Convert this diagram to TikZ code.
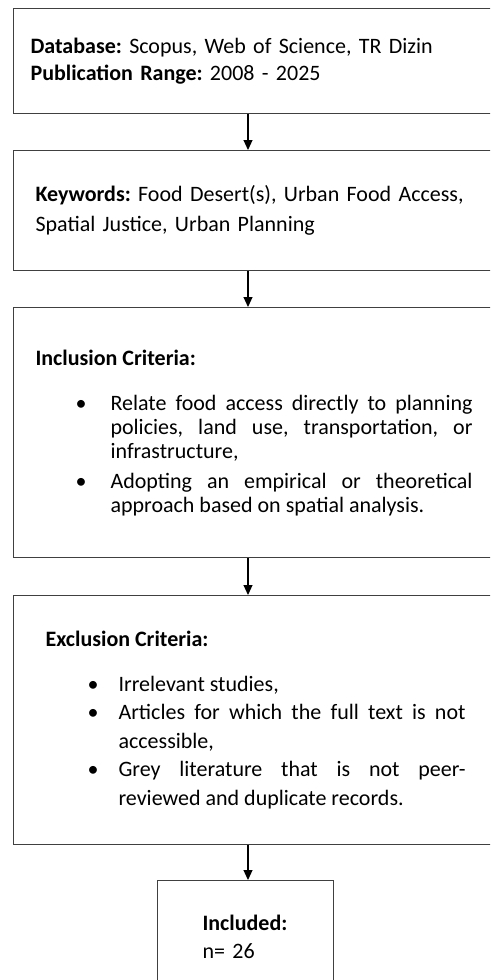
\documentclass[tikz,border=0pt]{standalone}
\usepackage{fontspec}
\setmainfont{Carlito}
\usetikzlibrary{positioning}
\usetikzlibrary{arrows.meta}
\tikzset{>={Triangle[length=10pt,width=9pt]}}
\tikzstyle{stage} = [rectangle, draw=black!75, line width=1.1pt, anchor=north west, inner ysep=2pt]
\tikzstyle{flow} = [->, draw=black, line width=1.1pt]
% bullet item: #1 bullet offset, #2 text indent, #3 text
\newcommand{\critem}[3]{\par\noindent\hangindent=#2\hangafter=1\makebox[#2][l]{\hspace{#1}\textbullet}#3\par}
\frenchspacing

\begin{document}
\begin{tikzpicture}[x=1pt, y=-1pt]
\useasboundingbox (0,0) rectangle (490,980);
\clip (0,0) rectangle (490,980);

\node [stage, minimum height=105pt, inner xsep=17pt, text width=453pt, align=left,
  font=\fontsize{22}{27}\selectfont] (db) at (13, 8)
  {\textbf{Database:} Scopus, Web of Science, TR Dizin\\
   \textbf{Publication Range:} 2008 - 2025};
\node [stage, minimum height=120pt, inner xsep=22pt, text width=460pt, align=left,
  font=\fontsize{22}{30}\selectfont] (kw) at (13, 150)
  {\textbf{Keywords:} Food Desert(s), Urban Food Access,\\
   Spatial Justice, Urban Planning};
\node [stage, minimum height=250pt, inner xsep=22pt, text width=437pt, align=justify,
  font=\fontsize{22}{24}\selectfont] (inc) at (13, 307)
  {\textbf{Inclusion Criteria:}\par\vspace{21pt}
   \critem{40pt}{75pt}{Relate food access directly to planning\linebreak
     policies, land use, transportation, or\linebreak infrastructure,}\vspace{6pt}
   \critem{40pt}{75pt}{Adopting an empirical or theoretical\linebreak
     approach based on spatial analysis.}\vspace{18pt}};
\node [stage, minimum height=249pt, inner xsep=32pt, text width=420pt, align=justify,
  font=\fontsize{22}{28.5}\selectfont] (exc) at (13, 595)
  {\textbf{Exclusion Criteria:}\par\vspace{16pt}
   \critem{42pt}{73pt}{Irrelevant studies,}
   \critem{42pt}{73pt}{Articles for which the full text is not\linebreak accessible,}
   \critem{42pt}{73pt}{Grey literature that is not peer-\linebreak
     reviewed and duplicate records.}};
\node [stage, minimum width=176pt, minimum height=112pt, inner xsep=45pt, text width=86pt,
  align=left, font=\fontsize{22}{28}\selectfont] (inc n) at (157, 880)
  {\textbf{Included:}\\ n= 26};

\coordinate (axis) at (248, 0);
\draw [flow] (db.south -| axis) to (kw.north -| axis);
\draw [flow] (kw.south -| axis) to (inc.north -| axis);
\draw [flow] (inc.south -| axis) to (exc.north -| axis);
\draw [flow] (exc.south -| axis) to (inc n.north -| axis);
\end{tikzpicture}
\end{document}
